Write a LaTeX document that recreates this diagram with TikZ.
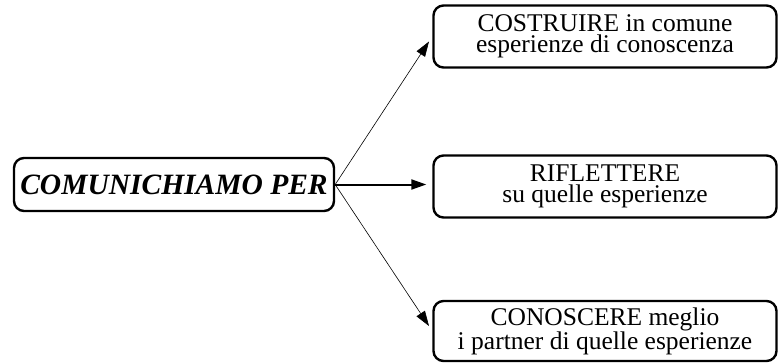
\documentclass[tikz,border=0pt]{standalone}
\usepackage{fontspec}
\setmainfont{Liberation Serif}
\usetikzlibrary{arrows.meta}

\begin{document}
\begin{tikzpicture}[x=1pt,y=-1pt]
\tikzstyle{box}=[draw, rounded corners=10pt, line width=2.4pt, align=center, inner sep=0pt]
\tikzstyle{goal}=[box, minimum width=343pt, minimum height=62pt, font=\fontsize{25.5}{21}\selectfont]
\tikzstyle{link}=[-{Triangle[length=15pt,width=10pt]}, shorten >=6pt]
\useasboundingbox (0,0) rectangle (780,362);
\node[box, minimum width=320pt, minimum height=53pt, font=\fontsize{29.5}{32}\selectfont\bfseries\itshape] (comunichiamo) at (174,184.5) {COMUNICHIAMO PER};
\node[goal] (costruire) at (605,36.5) {COSTRUIRE in comune\\esperienze di conoscenza};
\node[goal] (riflettere) at (605,186.5) {RIFLETTERE\\su quelle esperienze};
\node[goal, minimum height=60pt] (conoscere) at (605,331) {CONOSCERE meglio\\i partner di quelle esperienze};

\draw[link, line width=0.6pt] (comunichiamo.east) -- (costruire.west);
\draw[link, line width=2pt] (comunichiamo.east) -- (comunichiamo.east -| riflettere.west);
\draw[link, line width=0.6pt] (comunichiamo.east) -- (conoscere.west);
\end{tikzpicture}
\end{document}
